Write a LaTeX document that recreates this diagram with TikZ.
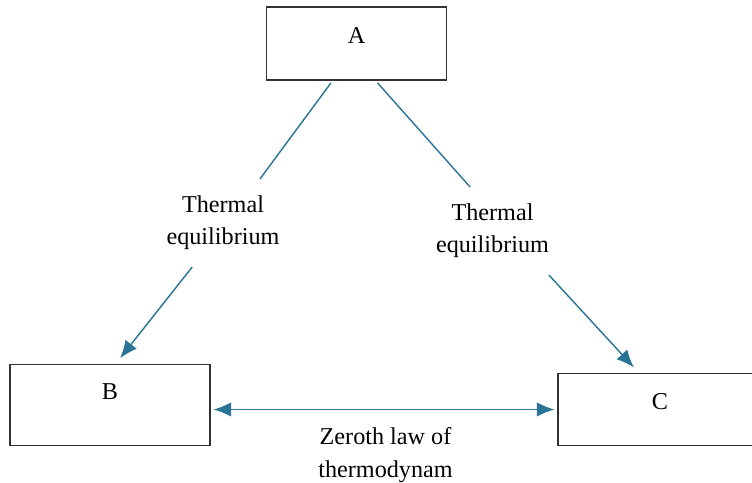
\documentclass[tikz,border=0pt]{standalone}
\usepackage{fontspec}
\setmainfont{Liberation Serif}
\usetikzlibrary{arrows.meta}
\definecolor{linkblue}{RGB}{40,115,150}

\begin{document}
\begin{tikzpicture}[x=0.025cm, y=-0.025cm, font=\fontsize{17.2}{22.8}\selectfont]
    \tikzstyle{box}=[draw=black!80, line width=1pt, minimum width=4.5cm, minimum height=1.82cm, text height=0.3cm, text depth=0.3cm]
    \tikzstyle{note}=[align=center, inner sep=0.42cm]
    \tikzstyle{link}=[draw=linkblue, line width=1pt]
    \tikzstyle{edge}=[link, -{Latex[length=4.4mm, width=3.6mm]}]

    \useasboundingbox[fill=white] (0,0) rectangle (752,482);

    \node[box] (A) at (356.7,43.6) {A};
    \node[box, minimum width=5cm, minimum height=2.03cm, text depth=0.6cm] (B) at (110,405) {B};
    \node[box, minimum width=5.1cm, minimum height=1.81cm] (C) at (660,409.5) {C};

    \node[note] (tl) at (223,223) {Thermal\\equilibrium};
    \node[note] (tr) at (492.5,231) {Thermal\\equilibrium};
    \node[align=center, inner sep=0pt, font=\fontsize{17.2}{24}\selectfont] (zl) at (385.5,455) {Zeroth law of\\thermodynam};

    \draw[link, shorten <=2pt] (A.-123) -- (tl.50);
    \draw[edge, shorten >=5pt] (tl.-125) -- (B.82);
    \draw[link, shorten <=2pt] (A.-63) -- (tr.117);
    \draw[edge, shorten >=5pt] (tr.-38) -- (C.120);
    \draw[edge, {Latex[length=4.4mm, width=3.6mm]}-{Latex[length=4.4mm, width=3.6mm]}, shorten <=2pt, shorten >=2pt] (C.west -| B.east) -- (C.west);
\end{tikzpicture}
\end{document}
